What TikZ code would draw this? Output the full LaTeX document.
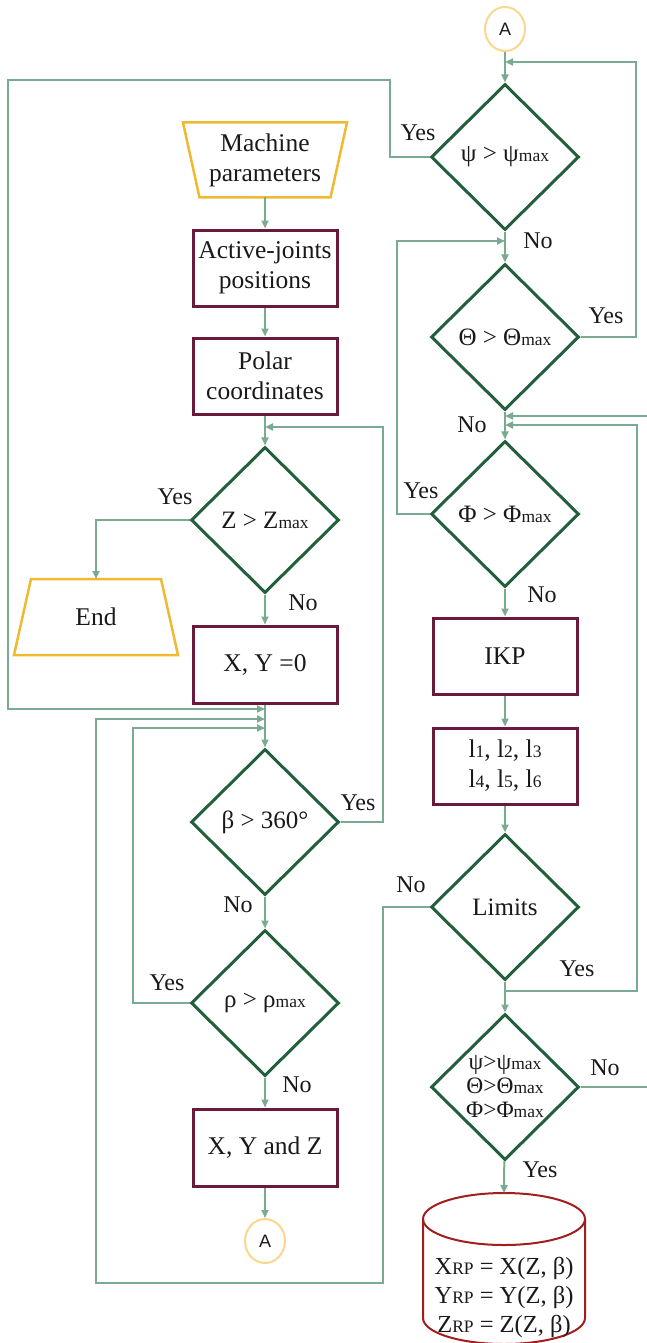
\documentclass[tikz,border=0pt]{standalone}
\usepackage{fontspec}
\setmainfont{Liberation Serif}
\newfontfamily\sansA{Liberation Sans}
\usetikzlibrary{shapes.geometric,arrows.meta,calc}
\definecolor{conncol}{HTML}{7AAA91}
\definecolor{diacol}{HTML}{235F3C}
\definecolor{boxcol}{HTML}{69193C}
\definecolor{trapcol}{HTML}{F0B932}
\definecolor{circcol}{HTML}{FAD78C}
\definecolor{cylcol}{HTML}{A01E1E}
\newcommand\smx[1]{{\fontsize{17.5}{17.5}\selectfont #1}}
\begin{document}
\begin{tikzpicture}[x=1pt,y=-1pt,
  every node/.style={font=\fontsize{25.5}{30}\selectfont, inner sep=0pt, text=black!90},
  conn/.style={draw=conncol, line width=2pt, -{Triangle[length=8pt,width=7pt]}},
  plain/.style={draw=conncol, line width=2pt},
  dia/.style={diamond, draw=diacol, line width=3pt, minimum width=148pt, minimum height=146pt, align=center, font=\fontsize{25}{30}\selectfont},
  boxn/.style={rectangle, draw=boxcol, line width=3pt, minimum width=144pt, minimum height=76pt, align=center},
  trapn/.style={rectangle, draw=none, outer sep=0pt, align=center},
  trapline/.style={draw=trapcol, line width=2.5pt, line join=miter},
  conA/.style={ellipse, draw=circcol, line width=2pt, minimum width=40pt, minimum height=44pt, font=\sansA\fontsize{18}{18}\selectfont},
  lbl/.style={font=\fontsize{24}{24}\selectfont}
]
\useasboundingbox (0,0) rectangle (647,1343);

% ---------- left column ----------
\node[trapn, minimum width=164pt, minimum height=75pt] (mp) at (265,160) {Machine\\parameters};
\draw[trapline] (mp.north west) -- (mp.north east) -- ([xshift=-16.5pt]mp.south east) -- ([xshift=16.5pt]mp.south west) -- cycle;
\node[boxn] (aj) at (265,268) {Active-joints\\positions};
\node[boxn] (pc) at (265,376) {Polar\\coordinates};
\node[dia] (dz) at (265,520) {Z > Z\smx{max}};
\node[trapn, minimum width=164pt, minimum height=76pt] (end) at (96,617) {End};
\draw[trapline] ([xshift=17pt]end.north west) -- ([xshift=-17pt]end.north east) -- (end.south east) -- (end.south west) -- cycle;
\node[boxn, minimum height=77pt] (xy0) at (265,664.5) {X, Y =0};
\node[dia] (db) at (265,822) {β > 360°};
\node[dia] (dr) at (265,1003) {ρ > ρ\smx{max}};
\node[boxn, minimum height=77pt] (xyz) at (265,1147.5) {X, Y and Z};
\node[conA] (A2) at (265,1241) {A};

% ---------- right column ----------
\node[conA] (A1) at (505,29) {A};
\node[dia] (dpsi) at (505,157) {ψ > ψ\smx{max}};
\node[dia] (dth) at (505,337) {Θ > Θ\smx{max}};
\node[dia] (dphi) at (505,514) {Φ > Φ\smx{max}};
\node[boxn] (ikp) at (505,656) {IKP};
\node[boxn] (ll) at (505,766) {l\smx{1}, l\smx{2}, l\smx{3}\\l\smx{4}, l\smx{5}, l\smx{6}};
\node[dia] (dlim) at (505,907) {Limits};
\node[dia, font=\fontsize{23.5}{24}\selectfont] (dfin) at (505,1087) {ψ>ψ\smx{max}\\Θ>Θ\smx{max}\\Φ>Φ\smx{max}};

% cylinder
\coordinate (cyltop) at (504,1193);
\draw[draw=cylcol, line width=2pt] (504,1219) ellipse [x radius=81pt, y radius=26pt];
\draw[draw=cylcol, line width=2pt] (423,1219) -- (423,1318) arc[start angle=180, end angle=360, x radius=81pt, y radius=26pt] -- (585,1219);
\node[align=center, font=\fontsize{24.5}{29}\selectfont] (cyl) at (504,1297) {X\smx{RP} = X(Z, β)\\Y\smx{RP} = Y(Z, β)\\Z\smx{RP} = Z(Z, β)};

% junction coordinates
\coordinate (j1) at (265,427);
\coordinate (j3) at (265,709);
\coordinate (j4) at (265,719);
\coordinate (j5) at (265,728);
\coordinate (jA) at (505,62);
\coordinate (jB) at (505,241);
\coordinate (jD) at (505,416);
\coordinate (jC) at (505,425);
\coordinate (jL) at (505,991);
\coordinate (edgeIn) at (648,416);

% ---------- connectors left ----------
\draw[conn] (mp) -- (aj);
\draw[conn] (aj) -- (pc);
\draw[conn] (pc) -- (dz);
\draw[conn] (dz.west) -| (end.north);
\draw[conn] (dz) -- (xy0);
\draw[conn] (xy0) -- (db);
\draw[conn] (db.east) -| (383,427) -- (j1);
\draw[conn] (db) -- (dr);
\draw[conn] (dr.west) -| (133,728) -- (j5);
\draw[conn] (dr) -- (xyz);
\draw[conn] (xyz) -- (A2);

% ---------- connectors right ----------
\draw[conn] (A1) -- (dpsi);
\draw[conn] (dpsi.west) -| (390,80) -- (8,80) |- (j3);
\draw[conn] (dpsi) -- (dth);
\draw[conn] (dth.east) -| (636,62) -- (jA);
\draw[conn] (dth) -- (dphi);
\draw[conn] (dphi.west) -| (397,241) -- (jB);
\draw[conn] (dphi) -- (ikp);
\draw[conn] (ikp) -- (ll);
\draw[conn] (ll) -- (dlim);
\draw[conn] (dlim.west) -| (383,1283) -| (96,719) -- (j4);
\draw[conn] (dlim) -- (dfin);
\draw[conn] (jL) -| (637,425) -- (jC);
\draw[plain] (dfin.east) -- ++(80,0);
\draw[conn] (edgeIn) -- (jD);
\draw[conn] (dfin) -- (cyltop);

% ---------- labels ----------
\node[lbl] (l1) at (418,133) {Yes};
\node[lbl] (l2) at (538,241) {No};
\node[lbl] (l3) at (606,316) {Yes};
\node[lbl] (l4) at (472,425) {No};
\node[lbl] (l5) at (175,497) {Yes};
\node[lbl] (l6) at (421,491) {Yes};
\node[lbl] (l7) at (303,603) {No};
\node[lbl] (l8) at (542,595) {No};
\node[lbl] (l9) at (358,803) {Yes};
\node[lbl] (l10) at (411,885) {No};
\node[lbl] (l11) at (238,905) {No};
\node[lbl] (l12) at (577,969) {Yes};
\node[lbl] (l13) at (167,983) {Yes};
\node[lbl] (l14) at (605,1068) {No};
\node[lbl] (l15) at (297,1085) {No};
\node[lbl] (l16) at (540,1170) {Yes};
\end{tikzpicture}
\end{document}
